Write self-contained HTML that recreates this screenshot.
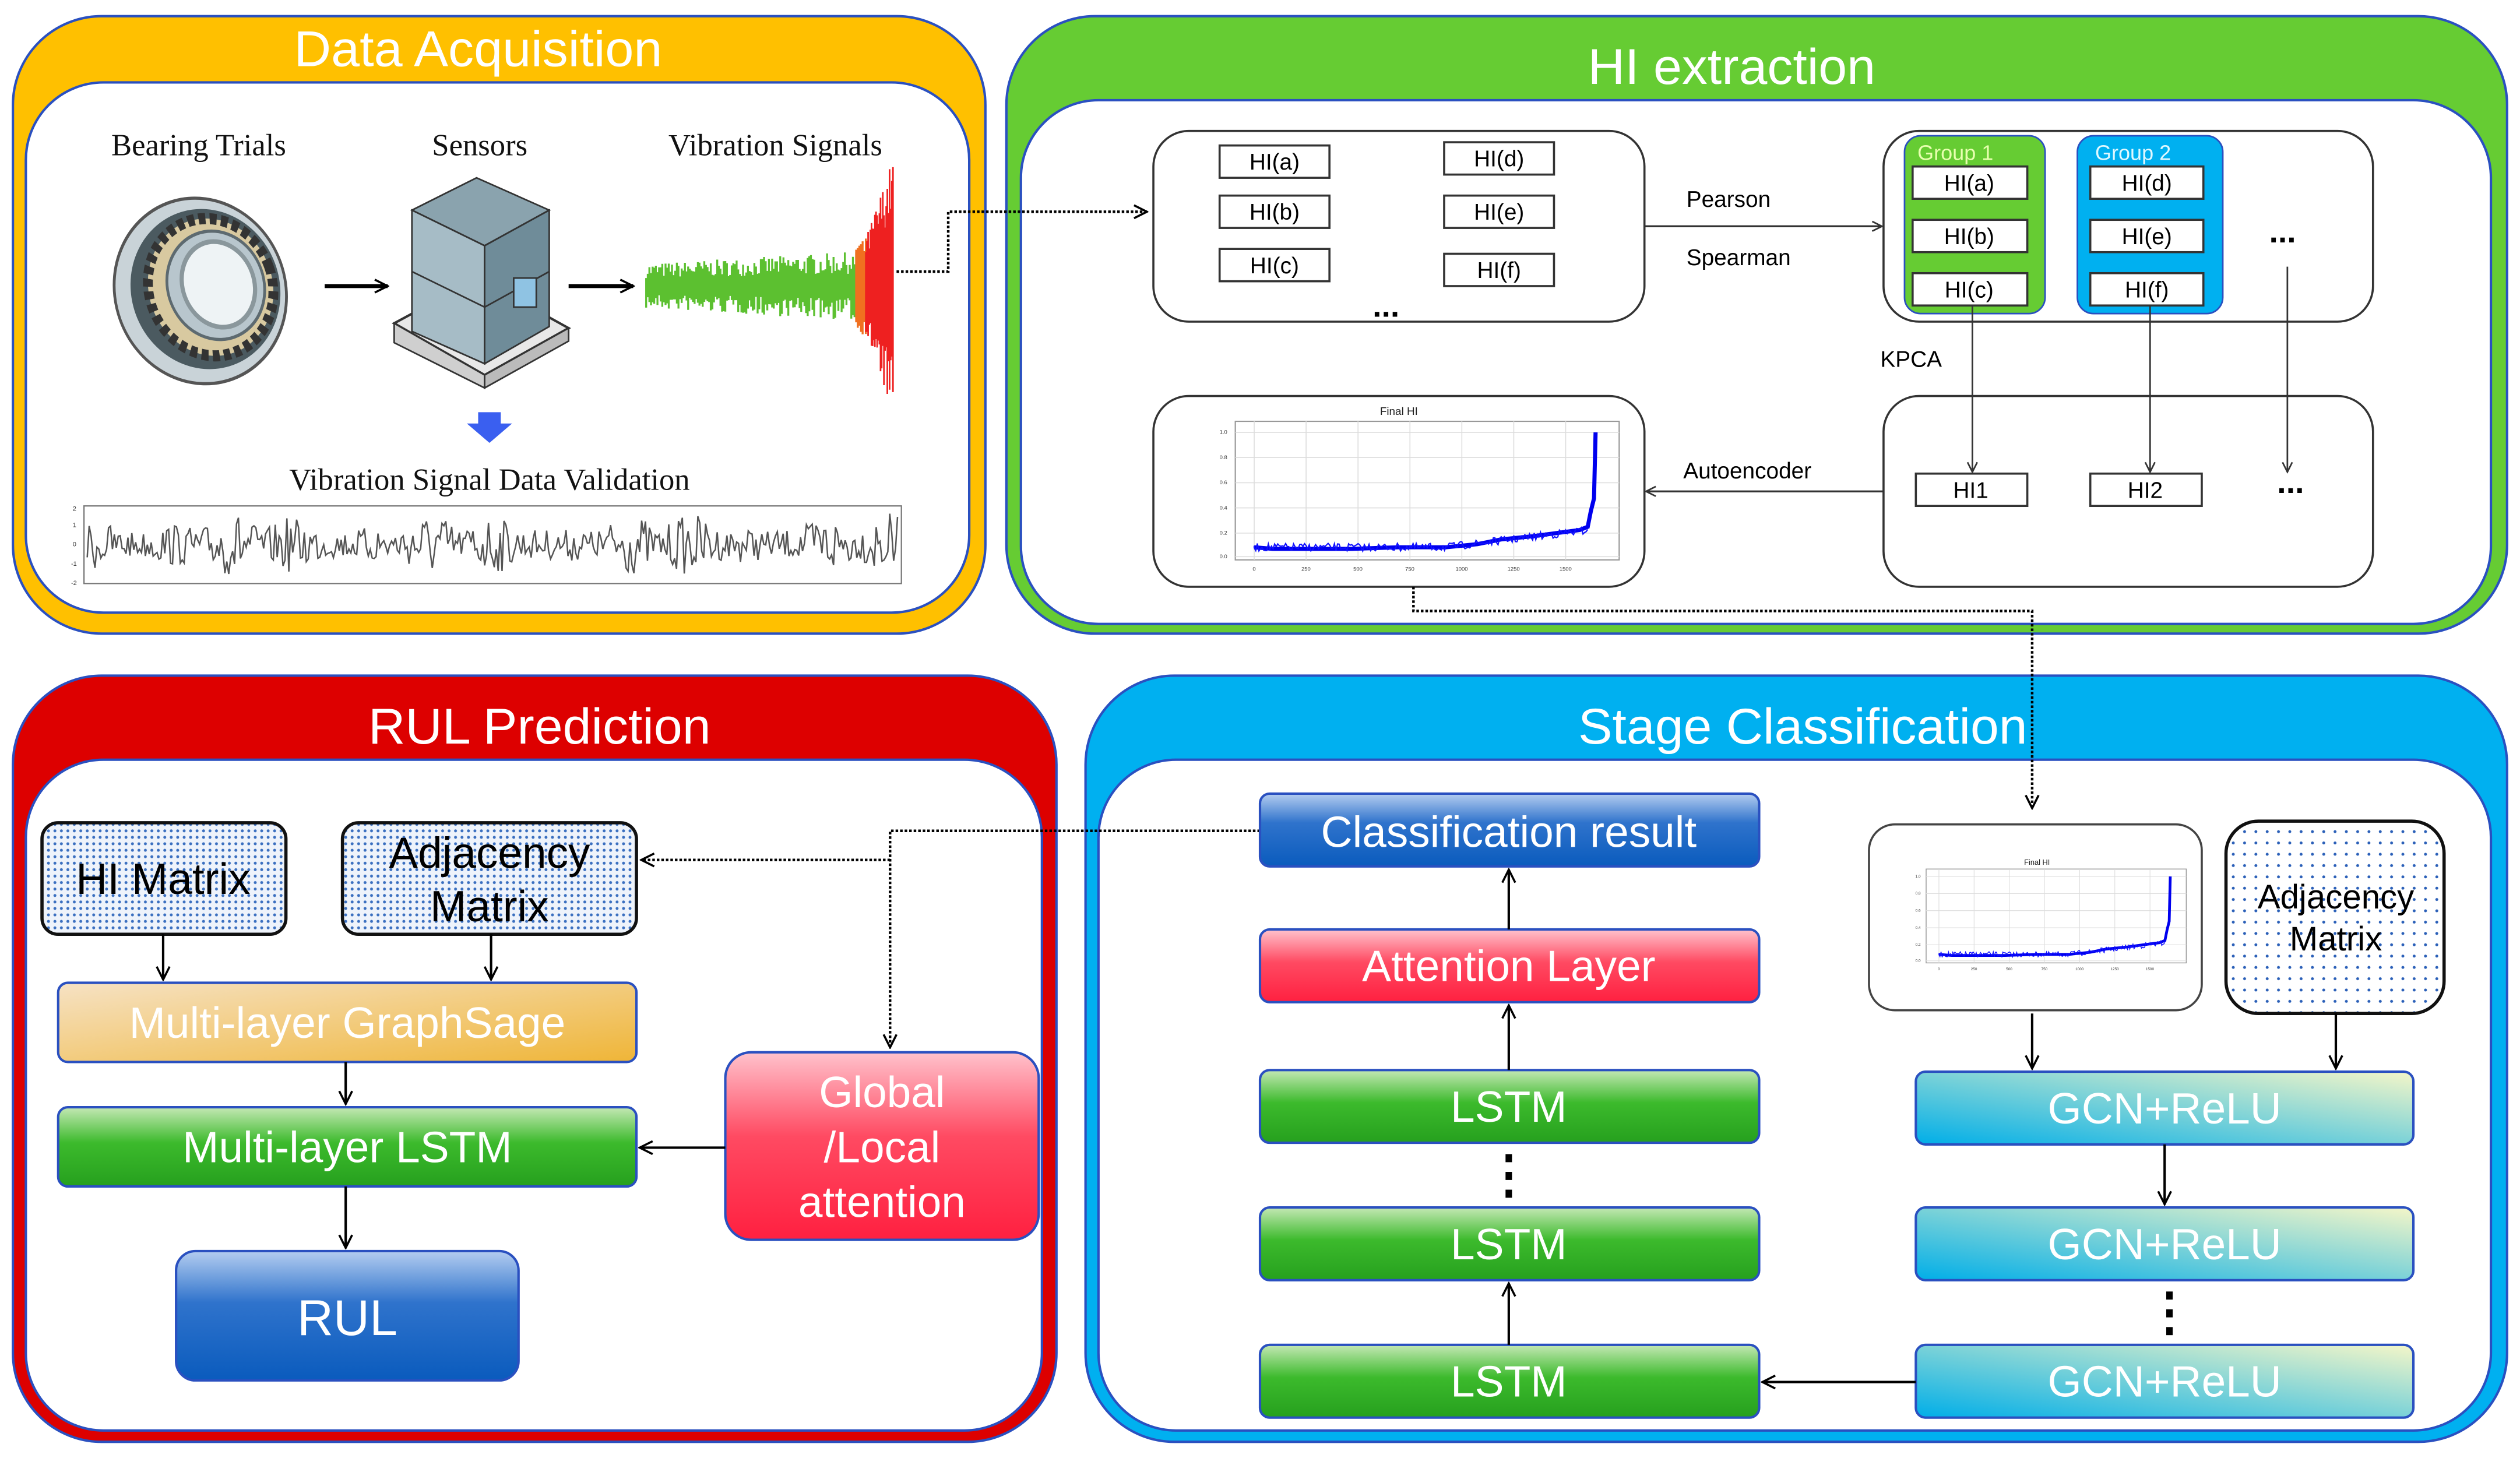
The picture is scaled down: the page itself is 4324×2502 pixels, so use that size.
<!DOCTYPE html>
<html><head><meta charset="utf-8"><style>
html,body{margin:0;padding:0;background:#fff;}
svg{display:block;}
text{font-family:"Liberation Sans",Arial,sans-serif;}
</style></head><body>
<svg id="s" xmlns="http://www.w3.org/2000/svg" width="4324" height="2502" viewBox="0 0 1560 902" preserveAspectRatio="none">
<defs>
<pattern id="dots" width="4" height="4" patternUnits="userSpaceOnUse"><rect width="4" height="4" fill="#eef3fb"/><circle cx="2" cy="2" r="0.9" fill="#3a6fc0"/></pattern>
<pattern id="dots2" width="7" height="7" patternUnits="userSpaceOnUse"><rect width="7" height="7" fill="#fff"/><circle cx="3.5" cy="3.5" r="0.9" fill="#2a5fb8"/></pattern>
<linearGradient id="gOr" x1="0" y1="0" x2="1" y2="1"><stop offset="0" stop-color="#f6e2c4"/><stop offset="1" stop-color="#efb537"/></linearGradient>
<linearGradient id="gGr" x1="0" y1="0" x2="0" y2="1"><stop offset="0" stop-color="#c4e8b4"/><stop offset="0.45" stop-color="#3cba2c"/><stop offset="1" stop-color="#26a01e"/></linearGradient>
<linearGradient id="gBl" x1="0" y1="0" x2="0" y2="1"><stop offset="0" stop-color="#b4cdf0"/><stop offset="0.4" stop-color="#2f73cc"/><stop offset="1" stop-color="#0a5bbd"/></linearGradient>
<linearGradient id="gRd" x1="0" y1="0" x2="0" y2="1"><stop offset="0" stop-color="#ffc2cc"/><stop offset="0.45" stop-color="#ff4a62"/><stop offset="1" stop-color="#ff2040"/></linearGradient>
<linearGradient id="gCy" x1="0" y1="1" x2="1" y2="0"><stop offset="0" stop-color="#00aee8"/><stop offset="1" stop-color="#f5f6c8"/></linearGradient>
<marker id="ah" markerWidth="10" markerHeight="10" refX="9" refY="5" orient="auto" markerUnits="userSpaceOnUse"><path d="M1,1 L9,5 L1,9" fill="none" stroke="#000" stroke-width="1.3"/></marker>
<marker id="ahs" markerWidth="8" markerHeight="8" refX="7" refY="4" orient="auto" markerUnits="userSpaceOnUse"><path d="M1,1 L7,4 L1,7" fill="none" stroke="#333" stroke-width="1"/></marker>
<symbol id="chart" viewBox="0 0 300 115">
<text x="150" y="9" font-size="7" text-anchor="middle" fill="#222">Final HI</text>
<rect x="46" y="13" width="244" height="88" fill="#fff" stroke="#999" stroke-width="0.8"/>
<g stroke="#ddd" stroke-width="0.6">
<line x1="46" y1="20" x2="290" y2="20"/><line x1="46" y1="36" x2="290" y2="36"/><line x1="46" y1="52" x2="290" y2="52"/><line x1="46" y1="68" x2="290" y2="68"/><line x1="46" y1="84" x2="290" y2="84"/><line x1="46" y1="99" x2="290" y2="99"/>
<line x1="58" y1="13" x2="58" y2="101"/><line x1="91" y1="13" x2="91" y2="101"/><line x1="124" y1="13" x2="124" y2="101"/><line x1="157" y1="13" x2="157" y2="101"/><line x1="190" y1="13" x2="190" y2="101"/><line x1="223" y1="13" x2="223" y2="101"/><line x1="256" y1="13" x2="256" y2="101"/>
</g>
<g font-size="3.5" fill="#333"><text x="36" y="21">1.0</text><text x="36" y="37">0.8</text><text x="36" y="53">0.6</text><text x="36" y="69">0.4</text><text x="36" y="85">0.2</text><text x="36" y="100">0.0</text>
<text x="57" y="108">0</text><text x="88" y="108">250</text><text x="121" y="108">500</text><text x="154" y="108">750</text><text x="186" y="108">1000</text><text x="219" y="108">1250</text><text x="252" y="108">1500</text></g>
<path d="M58,93 L70,94 L90,94 L120,94 L150,93 L180,93 L200,91 L215,88 L235,86 L250,84 L265,82 L270,80 L272,70 L274,62 L275,20" fill="none" stroke="#0000ee" stroke-width="2.6"/>
<path class="hn" d="" fill="none" stroke="#1010ff" stroke-width="0.8"/>
</symbol>
</defs>

<!-- Data Acquisition -->
<rect x="8" y="10" width="602" height="382" rx="55" fill="#ffc000" stroke="#2a50c0" stroke-width="1.5"/>
<rect x="16" y="51" width="584" height="328" rx="48" fill="#fff" stroke="#2a50c0" stroke-width="1.5"/>
<text x="296" y="41" font-size="31" fill="#fff" text-anchor="middle" textLength="228" lengthAdjust="spacingAndGlyphs">Data Acquisition</text>
<g font-size="19" fill="#111" text-anchor="middle">
<text x="123" y="96" style="font-family:'Liberation Serif',serif">Bearing Trials</text>
<text x="297" y="96" style="font-family:'Liberation Serif',serif">Sensors</text>
<text x="480" y="96" style="font-family:'Liberation Serif',serif">Vibration Signals</text>
<text x="303" y="303" style="font-family:'Liberation Serif',serif">Vibration Signal Data Validation</text>
</g>
<!-- bearing -->
<g transform="translate(124,180) rotate(-20) scale(0.85,1)">
<ellipse cx="0" cy="0" rx="62" ry="58" fill="#c9d3d8" stroke="#555" stroke-width="2"/>
<ellipse cx="4" cy="0" rx="54" ry="50" fill="#4b5a60"/>
<ellipse cx="8" cy="0" rx="45" ry="43" fill="#d8c9a0" stroke="#333" stroke-width="7" stroke-dasharray="5 3"/>
<ellipse cx="12" cy="0" rx="35" ry="34" fill="#b8c6cd" stroke="#5d6a70" stroke-width="2"/>
<ellipse cx="14" cy="0" rx="26" ry="27" fill="#eef3f5" stroke="#8a979c" stroke-width="3"/>
</g>
<!-- server -->
<g>
<polygon points="244,200 300,232 352,203 296,172" fill="#e8e8e8" stroke="#333" stroke-width="1.5"/>
<polygon points="244,200 244,212 300,240 300,232" fill="#cfcfcf" stroke="#333"/>
<polygon points="300,232 300,240 352,211 352,203" fill="#bbb" stroke="#333"/>
<polygon points="255,130 300,152 340,130 295,110" fill="#8aa3ae" stroke="#333"/>
<polygon points="255,130 255,205 300,225 300,152" fill="#a6bcc6" stroke="#333"/>
<polygon points="300,152 300,225 340,202 340,130" fill="#6f8c99" stroke="#333"/>
<line x1="255" y1="168" x2="300" y2="190" stroke="#333"/>
<line x1="300" y1="190" x2="340" y2="168" stroke="#333"/>
<rect x="318" y="172" width="14" height="18" fill="#8fc3e3" stroke="#333"/>
</g>
<line x1="201" y1="177" x2="240" y2="177" stroke="#000" stroke-width="2.5" marker-end="url(#ah)"/>
<line x1="352" y1="177" x2="392" y2="177" stroke="#000" stroke-width="2.5" marker-end="url(#ah)"/>
<polygon points="296,255 310,255 310,262 317,262 303,274 289,262 296,262" fill="#3a5ff0"/>
<g id="vib"></g>
<rect x="52" y="313" width="506" height="48" fill="#fff" stroke="#777" stroke-width="0.8"/>
<g font-size="4" fill="#333"><text x="45" y="316">2</text><text x="45" y="326">1</text><text x="45" y="338">0</text><text x="44" y="350">-1</text><text x="44" y="362">-2</text></g>
<g id="val"></g>

<!-- HI extraction -->
<rect x="623" y="10" width="929" height="382" rx="55" fill="#66cc33" stroke="#2a50c0" stroke-width="1.5"/>
<rect x="632" y="62" width="910" height="324" rx="48" fill="#fff" stroke="#2a50c0" stroke-width="1.5"/>
<text x="1072" y="52" font-size="31" fill="#fff" text-anchor="middle" textLength="178" lengthAdjust="spacingAndGlyphs">HI extraction</text>
<!-- dotted from signals (drawn over panel) -->
<polyline points="555,168 587,168 587,131 710,131" fill="none" stroke="#000" stroke-width="1.6" stroke-dasharray="1.6 1.2" marker-end="url(#ah)"/>
<g fill="#fff" stroke="#333" stroke-width="1.3">
<rect x="714" y="81" width="304" height="118" rx="22"/>
<rect x="1166" y="81" width="303" height="118" rx="22"/>
<rect x="714" y="245" width="304" height="118" rx="22"/>
<rect x="1166" y="245" width="303" height="118" rx="22"/>
</g>
<rect x="1179" y="84" width="87" height="110" rx="10" fill="#66cc33" stroke="#2a50c0"/>
<rect x="1286" y="84" width="90" height="110" rx="10" fill="#00b0f0" stroke="#2a50c0"/>
<text x="1187" y="99" font-size="13" fill="#e8ffb0">Group 1</text>
<text x="1297" y="99" font-size="13" fill="#e0f8ff">Group 2</text>
<g fill="#fff" stroke="#333" stroke-width="1.3">
<rect x="755" y="90" width="68" height="20"/><rect x="755" y="121" width="68" height="20"/><rect x="755" y="154" width="68" height="20"/>
<rect x="894" y="88" width="68" height="20"/><rect x="894" y="121" width="68" height="20"/><rect x="894" y="157" width="68" height="20"/>
<rect x="1184" y="103" width="71" height="20"/><rect x="1184" y="136" width="71" height="20"/><rect x="1184" y="169" width="71" height="20"/>
<rect x="1294" y="103" width="70" height="20"/><rect x="1294" y="136" width="70" height="20"/><rect x="1294" y="169" width="70" height="20"/>
<rect x="1186" y="293" width="69" height="20"/><rect x="1294" y="293" width="69" height="20"/>
</g>
<g font-size="14" fill="#000" text-anchor="middle">
<text x="789" y="105">HI(a)</text><text x="789" y="136">HI(b)</text><text x="789" y="169">HI(c)</text>
<text x="928" y="103">HI(d)</text><text x="928" y="136">HI(e)</text><text x="928" y="172">HI(f)</text>
<text x="1219" y="118">HI(a)</text><text x="1219" y="151">HI(b)</text><text x="1219" y="184">HI(c)</text>
<text x="1329" y="118">HI(d)</text><text x="1329" y="151">HI(e)</text><text x="1329" y="184">HI(f)</text>
<text x="1220" y="308">HI1</text><text x="1328" y="308">HI2</text>
</g>
<g font-size="14" fill="#000">
<text x="1044" y="128">Pearson</text><text x="1044" y="164">Spearman</text>
<text x="1164" y="227">KPCA</text><text x="1042" y="296">Autoencoder</text>
</g>
<g font-size="20" font-weight="bold" fill="#000" text-anchor="middle">
<text x="858" y="196">...</text><text x="1413" y="150">...</text><text x="1418" y="305">...</text>
</g>
<line x1="1018" y1="140" x2="1165" y2="140" stroke="#333" stroke-width="1.2" marker-end="url(#ahs)"/>
<line x1="1166" y1="304" x2="1019" y2="304" stroke="#333" stroke-width="1.2" marker-end="url(#ahs)"/>
<line x1="1221" y1="189" x2="1221" y2="292" stroke="#333" stroke-width="1" marker-end="url(#ahs)"/>
<line x1="1331" y1="189" x2="1331" y2="292" stroke="#333" stroke-width="1" marker-end="url(#ahs)"/>
<line x1="1416" y1="165" x2="1416" y2="292" stroke="#333" stroke-width="1" marker-end="url(#ahs)"/>
<use href="#chart" x="716" y="248" width="300" height="112"/>

<!-- RUL Prediction -->
<rect x="8" y="418" width="646" height="474" rx="55" fill="#dd0000" stroke="#2a50c0" stroke-width="1.5"/>
<rect x="16" y="470" width="629" height="415" rx="48" fill="#fff" stroke="#2a50c0" stroke-width="1.5"/>
<text x="334" y="460" font-size="31" fill="#fff" text-anchor="middle" textLength="212" lengthAdjust="spacingAndGlyphs">RUL Prediction</text>
<rect x="26" y="509" width="151" height="69" rx="10" fill="url(#dots)" stroke="#111" stroke-width="2"/>
<rect x="212" y="509" width="182" height="69" rx="10" fill="url(#dots)" stroke="#111" stroke-width="2"/>
<text x="101" y="553" font-size="27" text-anchor="middle" fill="#000">HI Matrix</text>
<text x="303" y="537" font-size="27" text-anchor="middle" fill="#000">Adjacency</text>
<text x="303" y="570" font-size="27" text-anchor="middle" fill="#000">Matrix</text>
<rect x="36" y="608" width="358" height="49" rx="6" fill="url(#gOr)" stroke="#2a50c0" stroke-width="1.5"/>
<rect x="36" y="685" width="358" height="49" rx="6" fill="url(#gGr)" stroke="#2a50c0" stroke-width="1.5"/>
<rect x="109" y="774" width="212" height="80" rx="12" fill="url(#gBl)" stroke="#2a50c0" stroke-width="1.5"/>
<rect x="449" y="651" width="194" height="116" rx="16" fill="url(#gRd)" stroke="#2a50c0" stroke-width="1.5"/>
<g fill="#fff" font-size="27" text-anchor="middle">
<text x="215" y="642">Multi-layer GraphSage</text>
<text x="215" y="719">Multi-layer LSTM</text>
<text x="215" y="826" font-size="31">RUL</text>
<text x="546" y="685">Global</text><text x="546" y="719">/Local</text><text x="546" y="753">attention</text>
</g>
<g stroke="#000" stroke-width="1.5" fill="none">
<line x1="101" y1="578" x2="101" y2="606" marker-end="url(#ah)"/>
<line x1="304" y1="578" x2="304" y2="606" marker-end="url(#ah)"/>
<line x1="214" y1="657" x2="214" y2="683" marker-end="url(#ah)"/>
<line x1="214" y1="734" x2="214" y2="772" marker-end="url(#ah)"/>
<line x1="449" y1="710" x2="396" y2="710" marker-end="url(#ah)"/>
</g>

<!-- Stage Classification -->
<rect x="672" y="418" width="880" height="474" rx="55" fill="#00b0f0" stroke="#2a50c0" stroke-width="1.5"/>
<rect x="680" y="470" width="862" height="415" rx="48" fill="#fff" stroke="#2a50c0" stroke-width="1.5"/>
<text x="1116" y="460" font-size="31" fill="#fff" text-anchor="middle" textLength="278" lengthAdjust="spacingAndGlyphs">Stage Classification</text>
<g stroke="#000" stroke-width="1.6" fill="none" stroke-dasharray="1.6 1.2">
<polyline points="780,514 551,514 551,648" marker-end="url(#ah)"/>
<line x1="551" y1="532" x2="397" y2="532" marker-end="url(#ah)"/>
<polyline points="875,363 875,378 1258,378 1258,500" marker-end="url(#ah)"/>
</g>
<rect x="780" y="491" width="309" height="45" rx="6" fill="url(#gBl)" stroke="#2a50c0" stroke-width="1.5"/>
<rect x="780" y="575" width="309" height="45" rx="6" fill="url(#gRd)" stroke="#2a50c0" stroke-width="1.5"/>
<rect x="780" y="662" width="309" height="45" rx="6" fill="url(#gGr)" stroke="#2a50c0" stroke-width="1.5"/>
<rect x="780" y="747" width="309" height="45" rx="6" fill="url(#gGr)" stroke="#2a50c0" stroke-width="1.5"/>
<rect x="780" y="832" width="309" height="45" rx="6" fill="url(#gGr)" stroke="#2a50c0" stroke-width="1.5"/>
<rect x="1186" y="663" width="308" height="45" rx="6" fill="url(#gCy)" stroke="#2a50c0" stroke-width="1.5"/>
<rect x="1186" y="747" width="308" height="45" rx="6" fill="url(#gCy)" stroke="#2a50c0" stroke-width="1.5"/>
<rect x="1186" y="832" width="308" height="45" rx="6" fill="url(#gCy)" stroke="#2a50c0" stroke-width="1.5"/>
<g fill="#fff" font-size="27" text-anchor="middle">
<text x="934" y="524">Classification result</text>
<text x="934" y="607">Attention Layer</text>
<text x="934" y="694">LSTM</text><text x="934" y="779">LSTM</text><text x="934" y="864">LSTM</text>
<text x="1340" y="695">GCN+ReLU</text><text x="1340" y="779">GCN+ReLU</text><text x="1340" y="864">GCN+ReLU</text>
</g>
<rect x="1157" y="510" width="206" height="115" rx="16" fill="#fff" stroke="#444" stroke-width="1.3"/>
<use href="#chart" x="1162" y="513" width="198" height="108"/>
<rect x="1378" y="508" width="135" height="119" rx="20" fill="url(#dots2)" stroke="#111" stroke-width="2"/>
<text x="1446" y="562" font-size="21" text-anchor="middle" fill="#000">Adjacency</text>
<text x="1446" y="588" font-size="21" text-anchor="middle" fill="#000">Matrix</text>
<g stroke="#000" stroke-width="1.5" fill="none">
<line x1="934" y1="575" x2="934" y2="538" marker-end="url(#ah)"/>
<line x1="934" y1="662" x2="934" y2="622" marker-end="url(#ah)"/>
<line x1="934" y1="832" x2="934" y2="794" marker-end="url(#ah)"/>
<line x1="1258" y1="627" x2="1258" y2="661" marker-end="url(#ah)"/>
<line x1="1446" y1="627" x2="1446" y2="661" marker-end="url(#ah)"/>
<line x1="1340" y1="708" x2="1340" y2="745" marker-end="url(#ah)"/>
<line x1="1186" y1="855" x2="1091" y2="855" marker-end="url(#ah)"/>
</g>
<g fill="#000"><rect x="932" y="714" width="4" height="5"/><rect x="932" y="725" width="4" height="5"/><rect x="932" y="736" width="4" height="5"/>
<rect x="1341" y="799" width="4" height="5"/><rect x="1341" y="810" width="4" height="5"/><rect x="1341" y="821" width="4" height="5"/></g>
</svg>
<script>
(function(){
var NS="http://www.w3.org/2000/svg";
var seed=7;function r(){seed=(seed*16807)%2147483647;return seed/2147483647;}
var g=document.getElementById('vib');
var d="";
for(var x=400;x<=532;x+=1){var a=10+(x-400)*0.04;var up=177-a*(0.5+r()*0.9),dn=177+a*(0.5+r()*0.9);d+="M"+x+","+up.toFixed(1)+"L"+x+","+dn.toFixed(1);}
var p=document.createElementNS(NS,'path');p.setAttribute('d',d);p.setAttribute('stroke','#5cc030');p.setAttribute('stroke-width','1.2');g.appendChild(p);
var d2="";
for(var x=530;x<=537;x+=1){var a=25;d2+="M"+x+","+(177-a*(0.6+r()*0.6)).toFixed(1)+"L"+x+","+(177+a*(0.6+r()*0.6)).toFixed(1);}
p=document.createElementNS(NS,'path');p.setAttribute('d',d2);p.setAttribute('stroke','#f07020');p.setAttribute('stroke-width','1.2');g.appendChild(p);
var d3="";
for(var x=536;x<=553;x+=0.7){var a=30+(x-536)*3;d3+="M"+x.toFixed(1)+","+(177-a*(0.55+r()*0.45)).toFixed(1)+"L"+x.toFixed(1)+","+(177+a*(0.55+r()*0.45)).toFixed(1);}
p=document.createElementNS(NS,'path');p.setAttribute('d',d3);p.setAttribute('stroke','#ee2020');p.setAttribute('stroke-width','1');g.appendChild(p);
var v=document.getElementById('val');var pts=[];
for(var x=54;x<=556;x+=1.2){var env=0.4+0.6*Math.abs(Math.sin(x/13))*Math.abs(Math.sin(x/41+1));var y=337+(r()*2-1)*20*env;pts.push(x.toFixed(1)+","+y.toFixed(1));}
p=document.createElementNS(NS,'polyline');p.setAttribute('points',pts.join(' '));p.setAttribute('fill','none');p.setAttribute('stroke','#555');p.setAttribute('stroke-width','0.9');v.appendChild(p);
var hn=document.querySelector('#chart .hn');var dd="M58,92";
for(var x=58;x<=270;x+=1){var base=x<180?93:(x<270?93-(x-180)*0.12:80);dd+="L"+x+","+(base+(r()*2-1)*2.5).toFixed(1);}
if(hn)hn.setAttribute('d',dd);
})();
</script>
</body></html>
